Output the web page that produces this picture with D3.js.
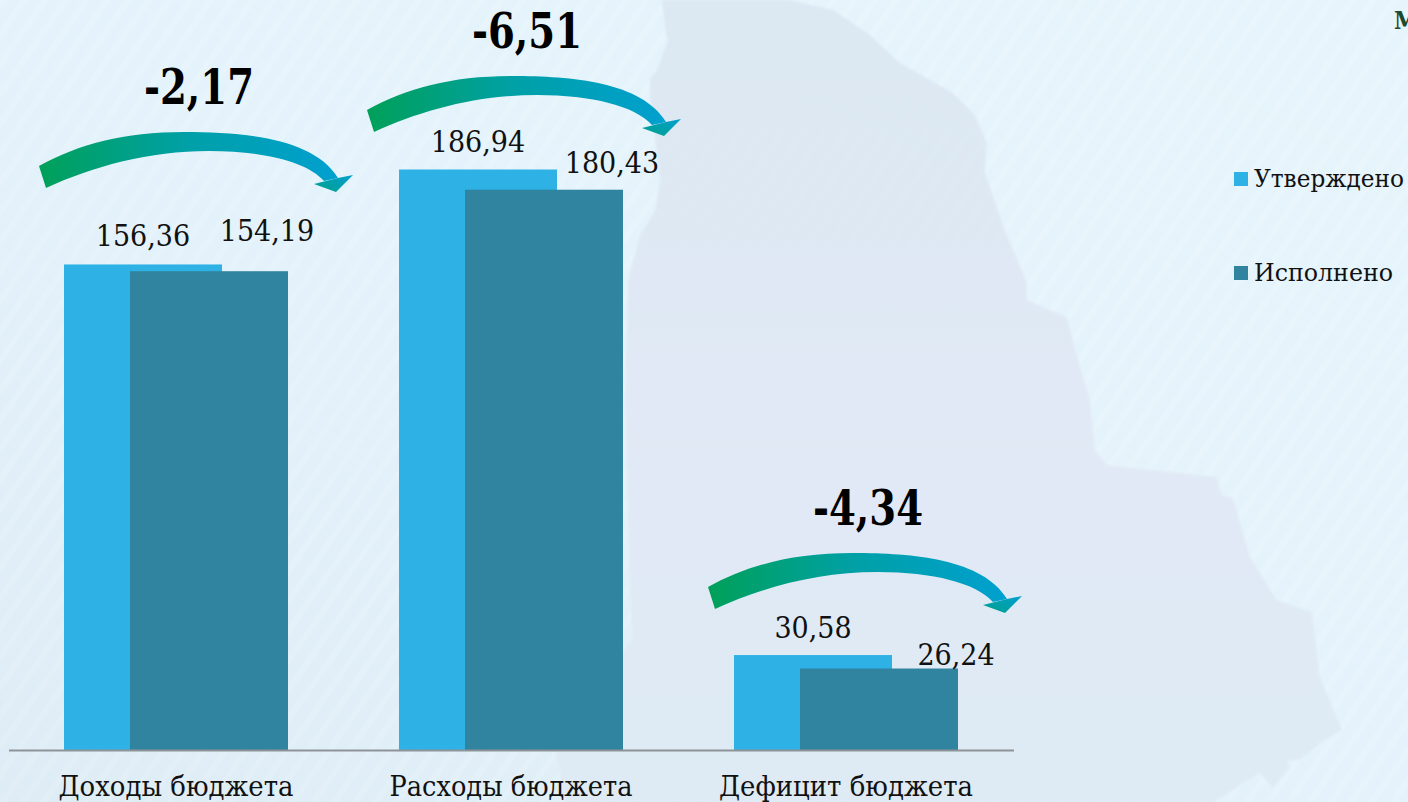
<!DOCTYPE html>
<html>
<head>
<meta charset="utf-8">
<script src="https://cdn.jsdelivr.net/npm/d3@7"></script>
<style>
  html, body { margin: 0; padding: 0; background: #e4f3fb; overflow: hidden; }
  text { font-family: "DejaVu Serif", "Liberation Serif", serif; font-stretch: condensed; fill: #111; }
</style>
</head>
<body>
<div id="chart"></div>
<script>
const categories = ['Доходы бюджета', 'Расходы бюджета', 'Дефицит бюджета']
const approved = [156.36, 186.94, 30.58]
const executed = [154.19, 180.43, 26.24]
const changes = [-2.17, -6.51, -4.34]
const seriesNames = ['Утверждено', 'Исполнено']
const cornerLabel = 'М'

const width = 1408
const height = 802
const baseline = 750
const barColors = ['#2eb1e5', '#31849f']
const fmt = (v) => d3.format('.2f')(v).replace('.', ',').replace('−', '-')

const svg = d3.select('#chart').append('svg')
  .attr('width', width)
  .attr('height', height)
  .style('display', 'block')

const defs = svg.append('defs')

// Page background: soft wash with faint diagonal stripes
const bgGrad = defs.append('linearGradient').attr('id', 'bg-wash')
  .attr('x1', 0).attr('y1', 1).attr('x2', 1).attr('y2', 0)
bgGrad.append('stop').attr('offset', 0).attr('stop-color', '#deecf5')
bgGrad.append('stop').attr('offset', 0.5).attr('stop-color', '#e4f3fb')
bgGrad.append('stop').attr('offset', 1).attr('stop-color', '#e6f5fc')

const stripes = defs.append('pattern').attr('id', 'stripes')
  .attr('width', 17).attr('height', 17)
  .attr('patternUnits', 'userSpaceOnUse')
  .attr('patternTransform', 'rotate(35)')
stripes.append('rect').attr('width', 6).attr('height', 17)
  .attr('fill', '#ffffff').attr('opacity', 0.1)

const mapGrad = defs.append('linearGradient').attr('id', 'map-wash')
  .attr('x1', 0).attr('y1', 0).attr('x2', 0).attr('y2', 1)
mapGrad.append('stop').attr('offset', 0).attr('stop-color', '#dce7f2')
mapGrad.append('stop').attr('offset', 0.55).attr('stop-color', '#e1e9f5')
mapGrad.append('stop').attr('offset', 1).attr('stop-color', '#deeaf4')

defs.append('filter').attr('id', 'soft')
  .append('feGaussianBlur').attr('stdDeviation', 1.2)

svg.append('rect').attr('width', width).attr('height', height).attr('fill', 'url(#bg-wash)')
svg.append('rect').attr('width', width).attr('height', height).attr('fill', 'url(#stripes)')

// Region silhouette behind the chart
const mapOutline = [
  [662, 0], [790, 0], [833, 10], [870, 35], [900, 63], [953, 93], [975, 115], [987, 143],
  [985, 173], [1005, 230], [1027, 283], [1027, 300], [1067, 317], [1078, 360], [1090, 400],
  [1095, 450], [1107, 465], [1217, 477], [1222, 495], [1233, 498], [1250, 557], [1277, 600],
  [1312, 612], [1320, 677], [1342, 730], [1320, 743], [1300, 760], [1287, 760], [1290, 767],
  [1273, 788], [1260, 773], [1213, 802], [566, 802],
  [556, 753], [600, 680], [632, 640], [630, 590], [625, 400], [628, 280], [640, 235], [655, 210],
  [660, 180], [650, 95], [650, 78], [657, 70], [668, 40], [666, 35]
]
svg.append('path')
  .attr('d', d3.line()(mapOutline) + 'Z')
  .attr('fill', 'url(#map-wash)')
  .attr('opacity', 0.92)
  .attr('filter', 'url(#soft)')

const x = d3.scaleBand().domain(categories).range([8.5, 1013.5])
const y = d3.scaleLinear().domain([0, 186.94]).range([baseline, 169.5])
const barW = 158
const barShift = 66
const barLeft = (i) => x(categories[i]) + x.bandwidth() / 2 - (barW + barShift) / 2

// Bars, approved first so executed overlaps it
const seriesData = [approved, executed]
seriesData.forEach((values, s) => {
  svg.append('g').selectAll('rect')
    .data(values)
    .join('rect')
    .attr('x', (d, i) => barLeft(i) + s * barShift)
    .attr('y', (d) => y(d))
    .attr('width', barW)
    .attr('height', (d) => baseline - y(d))
    .attr('fill', barColors[s])
})

// Category axis
const tickWidths = [235, 243, 254]
const axis = svg.append('g')
  .attr('transform', `translate(0,${baseline})`)
  .call(d3.axisBottom(x).tickSize(0).tickPadding(26))
axis.select('.domain').attr('stroke', '#8e9398').attr('stroke-width', 2)
axis.selectAll('text')
  .style('font-family', '"DejaVu Serif", serif')
  .style('font-stretch', 'condensed')
  .style('font-size', '28.5px')
  .style('fill', '#111')
  .attr('textLength', (d, i) => tickWidths[i])
  .attr('lengthAdjust', 'spacingAndGlyphs')

// Value labels: hand placed in the original, so each has its own nudge
const labelNudgeX = [[0, 0, 0], [58, 68, 77]]
const labelLift = [[18, 18, 17], [30, 17, 4]]
seriesData.forEach((values, s) => {
  svg.append('g').selectAll('text')
    .data(values)
    .join('text')
    .attr('x', (d, i) => barLeft(i) + s * barShift + barW / 2 + labelNudgeX[s][i])
    .attr('y', (d, i) => y(d) - labelLift[s][i])
    .attr('text-anchor', 'middle')
    .style('font-size', '30px')
    .text(fmt)
})

// Curved change arrows, same shape placed above each group
const arrowGrad = defs.append('linearGradient').attr('id', 'arrow-grad')
arrowGrad.append('stop').attr('offset', 0).attr('stop-color', '#00a059')
arrowGrad.append('stop').attr('offset', 0.5).attr('stop-color', '#00a0a8')
arrowGrad.append('stop').attr('offset', 1).attr('stop-color', '#00a0d0')
const headGrad = defs.append('linearGradient').attr('id', 'head-grad')
  .attr('x1', 0).attr('y1', 1).attr('x2', 1).attr('y2', 0)
headGrad.append('stop').attr('offset', 0).attr('stop-color', '#00a08a')
headGrad.append('stop').attr('offset', 1).attr('stop-color', '#00a0d0')

const arrowTop = [166, 110, 587]
const arrowTailX = [39, 367, 708]
const arrowBody = 'M0,0 C40,-22 85,-34 145,-34 C205,-34 275,-28 299,12 L285,15 ' +
  'C268,-4 225,-15 170,-15 C110,-15 55,0 7,22 Z'
const arrowHead = 'M275,18 L299,12 L314,9 L297,26 Z'

const arrows = svg.append('g').selectAll('g')
  .data(changes)
  .join('g')
  .attr('transform', (d, i) => `translate(${arrowTailX[i]},${arrowTop[i]})`)
arrows.append('path').attr('d', arrowBody).attr('fill', 'url(#arrow-grad)')
arrows.append('path').attr('d', arrowHead).attr('fill', 'url(#head-grad)')
arrows.append('text')
  .attr('x', 160)
  .attr('y', -62)
  .attr('text-anchor', 'middle')
  .attr('textLength', 110)
  .attr('lengthAdjust', 'spacingAndGlyphs')
  .style('font-size', '48px')
  .style('font-weight', 'bold')
  .style('fill', '#000')
  .text(fmt)

// Legend
const legendWidths = [150, 139]
const legend = svg.append('g').selectAll('g')
  .data(seriesNames)
  .join('g')
  .attr('transform', (d, i) => `translate(1234,${172 + i * 94})`)
legend.append('rect').attr('width', 14).attr('height', 14).attr('fill', (d, i) => barColors[i])
legend.append('text')
  .attr('x', 20)
  .attr('y', 15)
  .attr('textLength', (d, i) => legendWidths[i])
  .attr('lengthAdjust', 'spacingAndGlyphs')
  .style('font-size', '25px')
  .text((d) => d)

// Cut-off title at the top right corner
svg.append('text')
  .attr('x', 1394)
  .attr('y', 29)
  .style('font-size', '24px')
  .style('font-weight', 'bold')
  .style('fill', '#1d4a2f')
  .text(cornerLabel)
</script>
</body>
</html>
